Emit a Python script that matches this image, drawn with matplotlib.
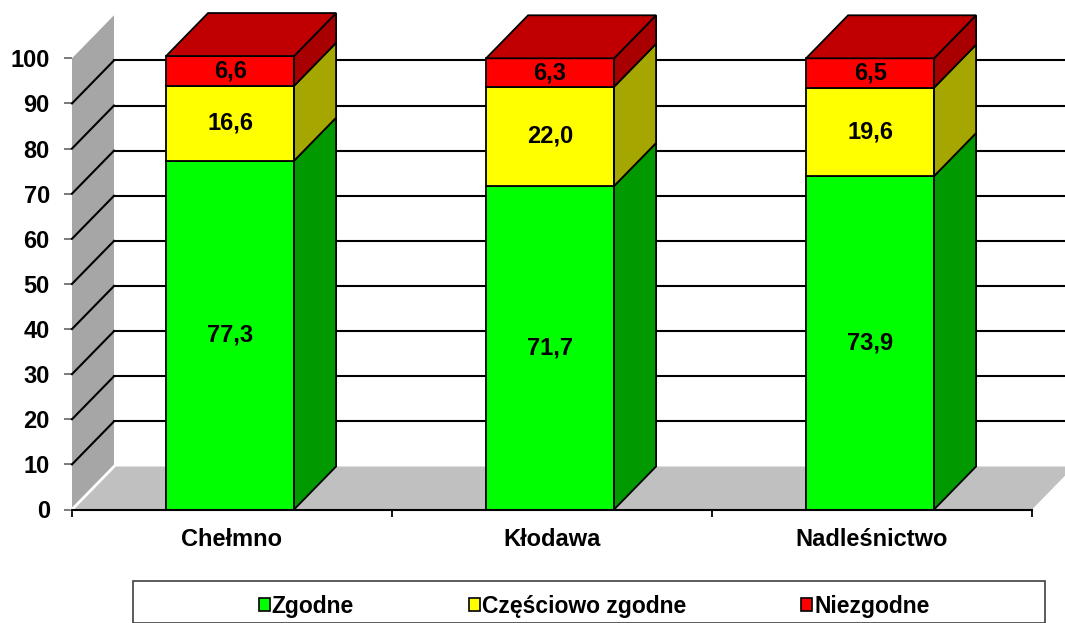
import matplotlib
matplotlib.use("Agg")
import matplotlib.pyplot as plt
from matplotlib.patches import Polygon, Patch, Rectangle
import numpy as np

plt.rcParams['font.family'] = ['Liberation Sans', 'DejaVu Sans']
plt.rcParams['font.weight'] = 'bold'

# dane
kategorie = ['Chełmno', 'Kłodawa', 'Nadleśnictwo']
zgodne = [77.3, 71.7, 73.9]
czesciowo = [16.6, 22.0, 19.6]
niezgodne = [6.6, 6.3, 6.5]
serie = ['Zgodne', 'Częściowo zgodne', 'Niezgodne']
y_ticks = list(range(0, 101, 10))

# kolory: przód, bok
kol_przod = ['#00ff00', '#ffff00', '#ff0000']
kol_bok = ['#009900', '#a6a600', '#a80000']
kol_gora = '#c00000'

W, H = 1065, 623
fig = plt.figure(figsize=(W / 100, H / 100), dpi=100)
ax = fig.add_axes([72 / W, (H - 509.5) / H, 960 / W, 451.2 / H])
ax.set_xlim(0, 3)
ax.set_ylim(0, 100)

# głębia efektu 3D (w jednostkach danych)
dx = 42 / 320
dy = 43 / 4.512

# ściana i podłoga
ax.add_patch(Polygon([(0, 0), (0, 100), (dx, 100 + dy), (dx, dy)],
                     closed=True, facecolor='#a6a6a6', edgecolor='none', clip_on=False, zorder=1))
ax.add_patch(Polygon([(0, 0), (3, 0), (3 + dx, dy), (dx, dy)],
                     closed=True, facecolor='#c0c0c0', edgecolor='none', clip_on=False, zorder=1))
ax.plot([0, dx], [0, dy], color='white', lw=2, clip_on=False, zorder=2)

# linie siatki
for v in y_ticks[1:-1]:
    ax.plot([0, dx], [v, v + dy], color='black', lw=1.5, clip_on=False, zorder=2)
    ax.plot([dx, 3 + dx], [v + dy, v + dy], color='black', lw=1.5, clip_on=False, zorder=2)

# słupki
x = np.arange(len(kategorie)) + 0.5 - 0.006
bw = 0.4
dane = [zgodne, czesciowo, niezgodne]
for i, c in enumerate(x):
    x0, x1 = c - bw / 2, c + bw / 2
    dol = 0
    for s, vals in enumerate(dane):
        v = vals[i]
        gora = dol + v
        ax.add_patch(Polygon([(x0, dol), (x1, dol), (x1, gora), (x0, gora)], closed=True,
                             facecolor=kol_przod[s], edgecolor='black', lw=1.3, clip_on=False, zorder=3))
        ax.add_patch(Polygon([(x1, dol), (x1 + dx, dol + dy), (x1 + dx, gora + dy), (x1, gora)], closed=True,
                             facecolor=kol_bok[s], edgecolor='black', lw=1.3, clip_on=False, zorder=3))
        ax.text(c, dol + v / 2, f"{v:.1f}".replace('.', ','), ha='center', va='center',
                fontsize=17, fontweight='bold', zorder=5)
        dol = gora
    ax.add_patch(Polygon([(x0, dol), (x1, dol), (x1 + dx, dol + dy), (x0 + dx, dol + dy)], closed=True,
                         facecolor=kol_gora, edgecolor='black', lw=1.3, clip_on=False, zorder=3))

# osie
for sp in ['top', 'right', 'left']:
    ax.spines[sp].set_visible(False)
ax.spines['bottom'].set_linewidth(1.5)
ax.spines['bottom'].set_zorder(4)
ax.set_yticks(y_ticks)
ax.set_yticklabels([str(t) for t in y_ticks], fontsize=17, fontweight='bold')
ax.tick_params(axis='y', length=6, width=1.3, color='#707070', pad=10)
ax.set_xticks([0, 1, 2, 3])
ax.set_xticklabels([])
ax.tick_params(axis='x', which='major', length=5, width=1.3, color='black')
ax.set_xticks(np.arange(len(kategorie)) + 0.5, minor=True)
ax.set_xticklabels(kategorie, minor=True, fontsize=17, fontweight='bold')
ax.tick_params(axis='x', which='minor', length=0, pad=13)

# legenda
fig.patches.append(Rectangle((133 / W, 0), (1045 - 133) / W, (H - 587) / H + 0.01,
                             transform=fig.transFigure, facecolor='white', edgecolor='#404040', lw=1.2))
uchwyty = [Patch(facecolor=k, edgecolor='black', lw=1.2) for k in kol_przod]
fig.legend(uchwyty, serie, ncol=3, loc='center', bbox_to_anchor=(594 / W, (H - 606) / H),
           frameon=False, handlelength=0.5, handleheight=0.5,
           handletextpad=0.08, columnspacing=5.0, prop={'weight': 'bold', 'size': 16.5})

fig.savefig('out.png', dpi=100)
